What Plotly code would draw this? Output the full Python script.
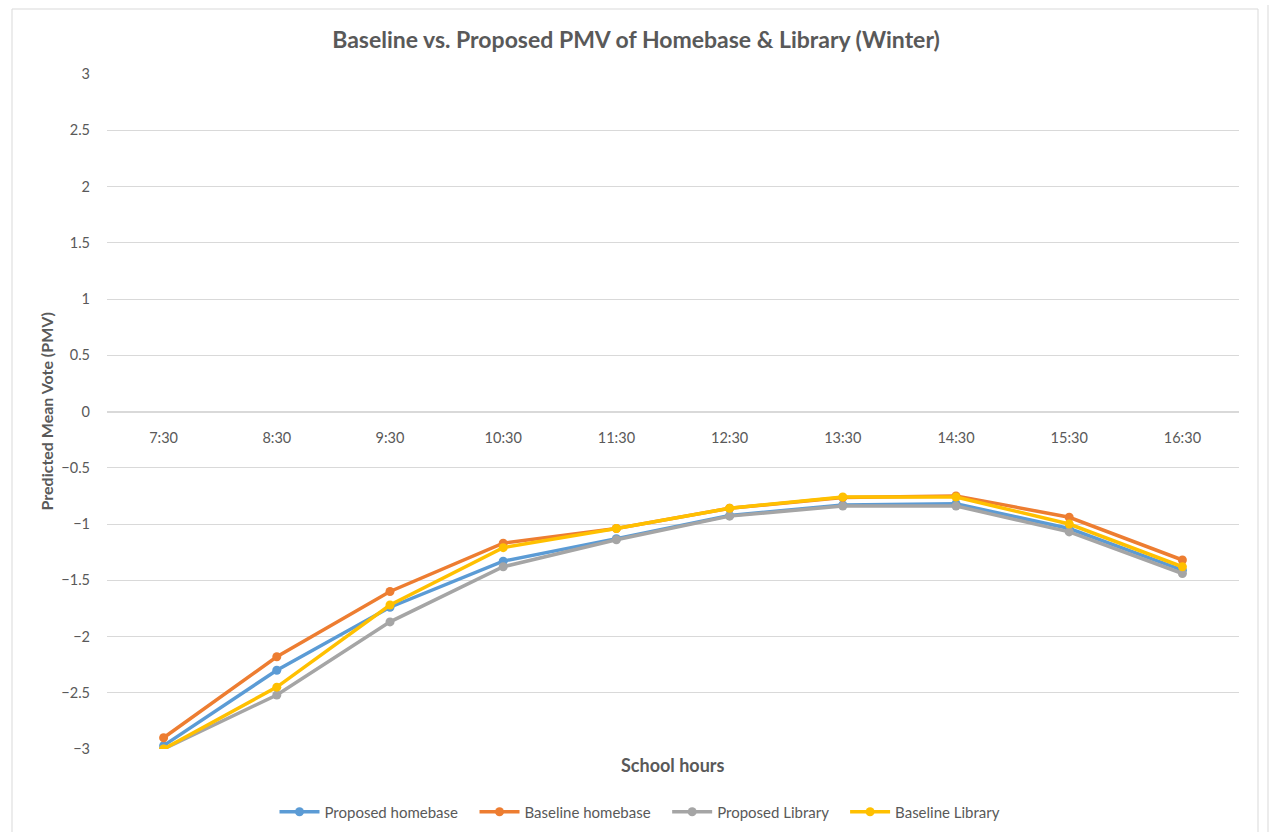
import plotly.graph_objects as go

# School-hour categories along the x axis
hours = ["7:30", "8:30", "9:30", "10:30", "11:30", "12:30", "13:30", "14:30", "15:30", "16:30"]

# PMV per hour for each case
proposed_homebase = [-2.97, -2.30, -1.74, -1.33, -1.13, -0.925, -0.83, -0.82, -1.04, -1.41]
baseline_homebase = [-2.90, -2.18, -1.60, -1.17, -1.04, -0.86, -0.765, -0.75, -0.94, -1.32]
proposed_library = [-3.00, -2.52, -1.87, -1.38, -1.14, -0.93, -0.84, -0.84, -1.07, -1.44]
baseline_library = [-3.00, -2.45, -1.72, -1.21, -1.04, -0.86, -0.76, -0.76, -1.00, -1.38]

series = [
    ("Proposed homebase", proposed_homebase, "#5B9BD5"),
    ("Baseline homebase", baseline_homebase, "#ED7D31"),
    ("Proposed Library", proposed_library, "#A5A5A5"),
    ("Baseline Library", baseline_library, "#FFC000"),
]

FONT = "Lato, Carlito, Calibri, sans-serif"
TXT = "#595959"
PAD = "\u00a0" * 3  # extra room between legend entries

fig = go.Figure()
for i, (name, vals, color) in enumerate(series):
    fig.add_trace(go.Scatter(
        x=hours, y=vals, name=name + (PAD if i < len(series) - 1 else ""),
        mode="lines+markers",
        line=dict(color=color, width=3.5),
        marker=dict(color=color, size=9),
    ))

W, H = 1272, 832
L, R, T, B = 107, 33, 74, 83
pw, ph = W - L - R, H - T - B


def px_x(p):
    return (p - L) / pw


def px_y(p):
    return (H - B - p) / ph


fig.update_layout(
    width=W, height=H,
    margin=dict(l=L, r=R, t=T, b=B, pad=0, autoexpand=False),
    paper_bgcolor="white", plot_bgcolor="white",
    font=dict(family=FONT, size=14, color=TXT),
    title=dict(
        text="<b>Baseline vs. Proposed PMV of Homebase & Library (Winter)</b>",
        x=0.5, xanchor="center", xref="container",
        y=1 - 40 / H, yanchor="middle", yref="container",
        font=dict(family=FONT, size=23, color=TXT),
    ),
    xaxis=dict(
        type="category", range=[-0.5, 9.5],
        anchor="free", position=0.5,
        showgrid=False, showline=True, linecolor="#D9D9D9", linewidth=1,
        ticks="", ticklabelstandoff=13,
        tickfont=dict(family=FONT, size=14.5, color=TXT),
        zeroline=False,
    ),
    yaxis=dict(
        range=[-3, 3], dtick=0.5, tick0=0,
        showgrid=True, gridcolor="#D9D9D9", gridwidth=1,
        zeroline=False, showline=False, ticks="",
        ticklabelstandoff=16,
        tickfont=dict(family=FONT, size=14.5, color=TXT),
    ),
    legend=dict(
        orientation="h", x=px_x(640), xanchor="center",
        y=px_y(812), yanchor="middle",
        font=dict(family=FONT, size=15, color=TXT),
        itemwidth=40, bgcolor="rgba(0,0,0,0)",
    ),
    showlegend=True,
)

# Axis titles
fig.add_annotation(
    text="<b>School hours</b>", x=px_x(673), y=px_y(765),
    xref="paper", yref="paper", xanchor="center", yanchor="middle",
    showarrow=False, font=dict(family=FONT, size=18, color=TXT),
)
fig.add_annotation(
    text="<b>Predicted Mean Vote (PMV)</b>", x=px_x(46), y=0.5,
    xref="paper", yref="paper", xanchor="center", yanchor="middle",
    textangle=-90, showarrow=False, font=dict(family=FONT, size=16, color=TXT),
)

# Chart frame
fig.add_shape(type="rect", xref="paper", yref="paper",
              x0=px_x(12), x1=px_x(1258), y0=px_y(840), y1=px_y(9),
              line=dict(color="#D9D9D9", width=1), fillcolor="rgba(0,0,0,0)", layer="below")
fig.add_shape(type="line", xref="paper", yref="paper",
              x0=px_x(1268), x1=px_x(1268), y0=px_y(840), y1=px_y(5),
              line=dict(color="#D9D9D9", width=1), layer="below")

fig.write_html("out.html")
